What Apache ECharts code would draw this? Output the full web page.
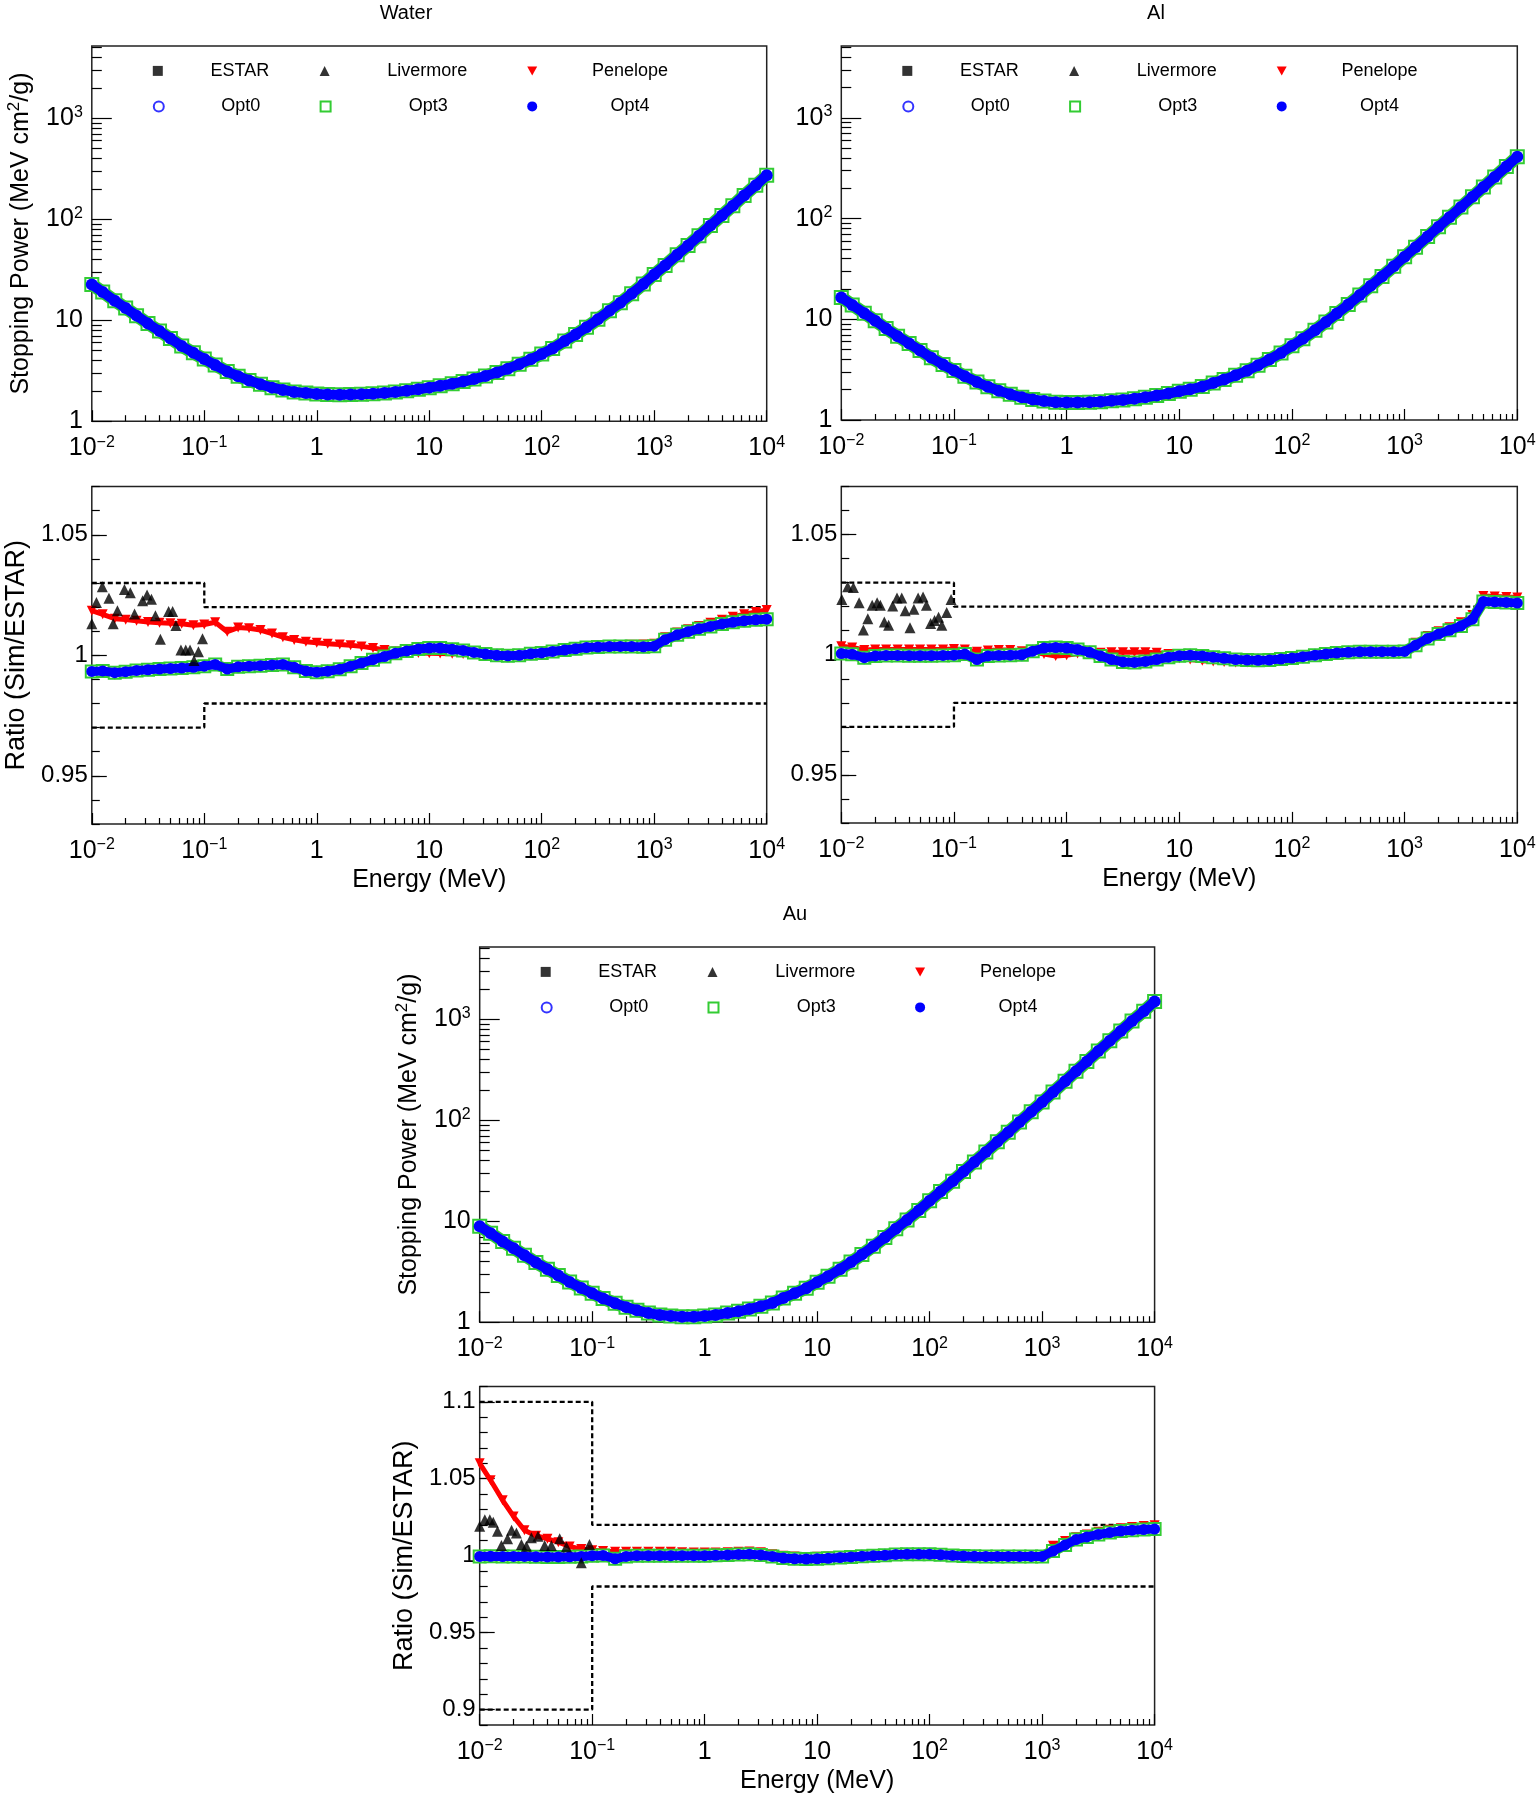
<!DOCTYPE html>
<html>
<head>
<meta charset="utf-8">
<title>Stopping power: Water, Al, Au</title>
<script src="https://cdn.jsdelivr.net/npm/echarts@6.0.0/dist/echarts.min.js"></script>
<style>
html, body { margin: 0; padding: 0; background: #fff; }
#main { width: 1539px; height: 1800px; }
</style>
</head>
<body>
<div id="main"></div>
<script>
// energy grid (MeV), shared by every curve
var energy = [0.01, 0.0125, 0.016, 0.02, 0.025, 0.0316, 0.04, 0.05, 0.063, 0.08,
	0.1, 0.125, 0.16, 0.2, 0.25, 0.316, 0.4, 0.5, 0.63, 0.8,
	1, 1.25, 1.6, 2, 2.5, 3.16, 4, 5, 6.3, 8,
	10, 12.5, 16, 20, 25, 31.6, 40, 50, 63, 80,
	100, 125, 160, 200, 250, 316, 400, 500, 630, 800,
	1000, 1250, 1600, 2000, 2500, 3160, 4000, 5000, 6300, 8000,
	10000];

// stopping power (MeV cm2/g)
var waterSP = [22.6, 19.0, 15.6, 13.2, 11.1, 9.25, 7.8, 6.6, 5.55, 4.76,
	4.12, 3.6, 3.1, 2.79, 2.53, 2.32, 2.15, 2.04, 1.95, 1.90,
	1.86, 1.84, 1.83, 1.84, 1.85, 1.87, 1.90, 1.95, 2.0, 2.07,
	2.15, 2.24, 2.35, 2.47, 2.61, 2.80, 3.03, 3.31, 3.67, 4.10,
	4.62, 5.24, 6.21, 7.23, 8.5, 10.2, 12.4, 14.9, 18.3, 22.8,
	28.4, 34.9, 44.4, 55.0, 68.5, 86.5, 109, 136, 172, 217,
	272];
var alSP = [16.5, 13.9, 11.5, 9.7, 8.1, 6.8, 5.75, 4.9, 4.15, 3.55,
	3.1, 2.72, 2.38, 2.14, 1.95, 1.80, 1.68, 1.60, 1.54, 1.50,
	1.49, 1.49, 1.50, 1.52, 1.55, 1.58, 1.63, 1.68, 1.75, 1.83,
	1.93, 2.02, 2.15, 2.33, 2.52, 2.78, 3.09, 3.49, 3.99, 4.64,
	5.45, 6.41, 7.78, 9.4, 11.4, 14.0, 17.4, 21.5, 26.7, 33.6,
	41.9, 52, 66.5, 83, 103.5, 130.5, 165, 206, 259.5, 329,
	412];
var auSP = [8.9, 7.6, 6.3, 5.4, 4.6, 3.9, 3.35, 2.9, 2.5, 2.18,
	1.93, 1.72, 1.54, 1.41, 1.31, 1.23, 1.18, 1.15, 1.13, 1.13,
	1.15, 1.18, 1.23, 1.28, 1.35, 1.44, 1.55, 1.74, 1.93, 2.17,
	2.49, 2.85, 3.35, 3.94, 4.67, 5.64, 6.88, 8.4, 10.3, 12.8,
	15.9, 19.7, 24.9, 31.0, 38.6, 48.4, 61.1, 76.1, 96, 121.5,
	151.5, 190, 243, 305, 381, 484, 612, 764, 960, 1200,
	1500];

// ratio Sim/ESTAR
var waterPen = [1.0185, 1.0170, 1.0152, 1.0148, 1.0143, 1.0138, 1.0135, 1.0133, 1.0131, 1.0125,
	1.0128, 1.0137, 1.0098, 1.0115, 1.0112, 1.0105, 1.0090, 1.0075, 1.0064, 1.0056,
	1.0052, 1.0048, 1.0045, 1.0042, 1.0037, 1.0030, 1.0022, 1.0016, 1.0012, 1.0010,
	1.0008, 1.0007, 1.0006, 1.0005, 1.0004, 1.0002, 1.0000, 0.9999, 1.0000, 1.0007,
	1.0012, 1.0018, 1.0025, 1.0030, 1.0035, 1.0038, 1.0040, 1.0042, 1.0044, 1.0045,
	1.0048, 1.0075, 1.0095, 1.0108, 1.0122, 1.0135, 1.0148, 1.0160, 1.0170, 1.0180,
	1.0188];
var waterOpt = [0.9933, 0.9935, 0.9928, 0.9932, 0.9937, 0.9940, 0.9943, 0.9945, 0.9947, 0.9950,
	0.9955, 0.9962, 0.9943, 0.9952, 0.9955, 0.9957, 0.9960, 0.9962, 0.9950, 0.9935,
	0.9930, 0.9934, 0.9942, 0.9955, 0.9968, 0.9982, 0.9995, 1.0008, 1.0018, 1.0026,
	1.0030, 1.0030, 1.0025, 1.0020, 1.0012, 1.0005, 1.0000, 0.9998, 1.0000, 1.0006,
	1.0010, 1.0016, 1.0022, 1.0027, 1.0032, 1.0034, 1.0036, 1.0037, 1.0036, 1.0035,
	1.0038, 1.0065, 1.0085, 1.0098, 1.0110, 1.0120, 1.0130, 1.0137, 1.0143, 1.0147,
	1.0150];
var alPen = [1.0035, 1.0030, 1.0020, 1.0022, 1.0022, 1.0022, 1.0022, 1.0022, 1.0022, 1.0022,
	1.0024, 1.0022, 1.0012, 1.0018, 1.0020, 1.0020, 1.0015, 1.0012, 1.0003, 0.9995,
	0.9998, 1.0005, 1.0005, 1.0008, 1.0010, 1.0010, 1.0010, 1.0010, 1.0008, 1.0003,
	0.9985, 0.9980, 0.9975, 0.9972, 0.9970, 0.9968, 0.9968, 0.9970, 0.9972, 0.9980,
	0.9986, 0.9993, 1.0000, 1.0005, 1.0010, 1.0013, 1.0015, 1.0016, 1.0017, 1.0018,
	1.0019, 1.0050, 1.0078, 1.0098, 1.0115, 1.0135, 1.0165, 1.0245, 1.0243, 1.0240,
	1.0238];
var alOpt = [1.0005, 1.0002, 0.9988, 0.9995, 0.9997, 0.9997, 0.9996, 0.9996, 0.9996, 0.9997,
	0.9998, 1.0003, 0.9980, 0.9995, 0.9997, 0.9998, 1.0000, 1.0015, 1.0028, 1.0030,
	1.0028, 1.0022, 1.0010, 0.9995, 0.9980, 0.9970, 0.9968, 0.9972, 0.9980, 0.9990,
	0.9996, 0.9998, 0.9995, 0.9990, 0.9985, 0.9980, 0.9978, 0.9977, 0.9978, 0.9982,
	0.9986, 0.9992, 0.9998, 1.0003, 1.0007, 1.0010, 1.0012, 1.0013, 1.0013, 1.0013,
	1.0014, 1.0040, 1.0068, 1.0086, 1.0102, 1.0120, 1.0148, 1.0222, 1.0220, 1.0218,
	1.0215];
var auPen = [1.0600, 1.0490, 1.0360, 1.0255, 1.0165, 1.0130, 1.0110, 1.0088, 1.0060, 1.0043,
	1.0035, 1.0030, 1.0025, 1.0025, 1.0025, 1.0025, 1.0025, 1.0025, 1.0022, 1.0020,
	1.0020, 1.0020, 1.0022, 1.0025, 1.0028, 1.0022, 1.0010, 1.0000, 0.9995, 0.9992,
	0.9993, 0.9995, 0.9998, 1.0000, 1.0003, 1.0006, 1.0010, 1.0014, 1.0016, 1.0016,
	1.0015, 1.0012, 1.0008, 1.0005, 1.0003, 1.0002, 1.0002, 1.0002, 1.0002, 1.0002,
	1.0003, 1.0065, 1.0095, 1.0120, 1.0138, 1.0155, 1.0168, 1.0178, 1.0186, 1.0193,
	1.0198];
var auOpt = [0.9995, 0.9996, 0.9994, 0.9995, 0.9995, 0.9993, 0.9992, 0.9992, 0.9993, 0.9995,
	1.0000, 1.0002, 0.9980, 0.9995, 1.0000, 1.0000, 1.0000, 1.0000, 1.0000, 1.0000,
	1.0000, 1.0003, 1.0005, 1.0008, 1.0010, 1.0005, 0.9995, 0.9985, 0.9980, 0.9978,
	0.9980, 0.9983, 0.9988, 0.9992, 0.9996, 0.9999, 1.0003, 1.0008, 1.0010, 1.0010,
	1.0010, 1.0006, 1.0002, 0.9998, 0.9996, 0.9995, 0.9995, 0.9995, 0.9995, 0.9995,
	0.9995, 1.0030, 1.0070, 1.0105, 1.0122, 1.0138, 1.0150, 1.0160, 1.0166, 1.0170,
	1.0173];

// Livermore points (only below 0.1 MeV)
var waterLivE = [0.0100, 0.0110, 0.0124, 0.0142, 0.0155, 0.0169, 0.0195, 0.0220, 0.0240, 0.0283, 0.0310, 0.0339,
	0.0368, 0.0407, 0.0482, 0.0523, 0.0560, 0.0620, 0.0684, 0.0747, 0.0810, 0.0887, 0.0964];
var waterLivR = [1.0131, 1.0219, 1.0284, 1.0237, 1.0131, 1.0185, 1.0273, 1.0260, 1.0171, 1.0226, 1.0250, 1.0233,
	1.0164, 1.0067, 1.0182, 1.0182, 1.0124, 1.0022, 1.0022, 1.0022, 0.9978, 1.0015, 1.0069];
var alLivE = [0.0101, 0.0114, 0.0128, 0.0144, 0.0157, 0.0172, 0.0188, 0.0208, 0.0222, 0.0241, 0.0263, 0.0286, 0.0312,
	0.0344, 0.0369, 0.0407, 0.0441, 0.0481, 0.0532, 0.0570, 0.0621, 0.0673, 0.0730, 0.0780, 0.0862, 0.0942];
var alLivR = [1.0230, 1.0283, 1.0280, 1.0216, 1.0103, 1.0150, 1.0206, 1.0216, 1.0206, 1.0136, 1.0123, 1.0203, 1.0236,
	1.0236, 1.0183, 1.0112, 1.0189, 1.0236, 1.0240, 1.0206, 1.0130, 1.0143, 1.0156, 1.0123, 1.0176, 1.0230];
var auLivE = [0.0100, 0.0111, 0.0123, 0.0132, 0.0144, 0.0156, 0.0177, 0.0192, 0.0212, 0.0235, 0.0260, 0.0288, 0.0330,
	0.0378, 0.0434, 0.0514, 0.0590, 0.0800, 0.0946];
var auLivR = [1.0191, 1.0234, 1.0234, 1.0217, 1.0159, 1.0066, 1.0110, 1.0165, 1.0148, 1.0073, 1.0062, 1.0116, 1.0127,
	1.0066, 1.0066, 1.0110, 1.0058, 0.9955, 1.0073];

// tolerance bands (dashed)
var limitE = [0.01, 0.1, 0.1, 10000];
var waterUpper = [1.03, 1.03, 1.02, 1.02];
var waterLower = [0.97, 0.97, 0.98, 0.98];
var alUpper = [1.03, 1.03, 1.02, 1.02];
var alLower = [0.97, 0.97, 0.98, 0.98];
var auUpper = [1.1, 1.1, 1.02, 1.02];
var auLower = [0.9, 0.9, 0.98, 0.98];

// tick labels
var xMajor = [0.01, 0.1, 1, 10, 100, 1000, 10000];
var spMajor = [1, 10, 100, 1000];
var ratioMajor = [0.95, 1, 1.05];
var auRatioMajor = [0.9, 0.95, 1, 1.05, 1.1];

var FONT = '"Liberation Sans", Arial, Helvetica, sans-serif';
var BLUE = '#0000ff', RED = '#ff0000', GREEN = '#33cc33';

function pairs(xs, ys) {
	return xs.map(function(x, i) { return [x, ys[i]]; });
}

// 2..9 subdivisions of every decade
function logMinor(lo, hi) {
	var out = [];
	for (var e = Math.round(Math.log10(lo)); Math.pow(10, e) < hi; e++) {
		for (var k = 2; k <= 9; k++) {
			var v = +(k * Math.pow(10, e)).toPrecision(6);
			if (v <= hi) out.push(v);
		}
	}
	return out;
}

function linMinor(lo, hi) {
	var out = [];
	for (var i = Math.round(lo * 100); i <= Math.round(hi * 100); i++) out.push(i / 100);
	return out;
}

function powLabel(v) {
	var e = Math.round(Math.log10(v));
	if (e === 0) return '{b|1}';
	if (e === 1) return '{b|10}';
	return '{b|10}{s|' + (e < 0 ? '\u2212' + (-e) : e) + '}';
}

function ratioLabel(v) {
	return '{b|' + (Math.abs(v - 1) < 1e-9 ? '1' : String(+v.toFixed(2))) + '}';
}

var tickRich = {
	b: { fontSize: 25, fontFamily: FONT, color: '#000', lineHeight: 28 },
	s: { fontSize: 16, fontFamily: FONT, color: '#000', lineHeight: 14, verticalAlign: 'top' }
};
var ratioRich = {
	b: { fontSize: 24, fontFamily: FONT, color: '#000', lineHeight: 28 }
};
var tickLine = { color: '#000', width: 1.2 };

// panel boxes: [left, top, width, height]
var boxes = [
	[91.8, 45.9, 674.9, 375.3], [91.8, 486.6, 674.9, 337.4],
	[841.3, 45.9, 676, 374.1], [841.3, 486.6, 676, 336.3],
	[479.7, 946.9, 674.9, 375.3], [479.7, 1386.4, 674.9, 338.6]
];

var materials = [
	{ title: 'Water', tx: 406, ty: 13, sp: waterSP, pen: waterPen, opt: waterOpt,
		livE: waterLivE, livR: waterLivR, up: waterUpper, lo: waterLower,
		rmin: 0.93, rmax: 1.07, rmajor: ratioMajor, yname: true },
	{ title: 'Al', tx: 1156, ty: 13, sp: alSP, pen: alPen, opt: alOpt,
		livE: alLivE, livR: alLivR, up: alUpper, lo: alLower,
		rmin: 0.93, rmax: 1.07, rmajor: ratioMajor, yname: false },
	{ title: 'Au', tx: 795, ty: 914, sp: auSP, pen: auPen, opt: auOpt,
		livE: auLivE, livR: auLivR, up: auUpper, lo: auLower,
		rmin: 0.89, rmax: 1.11, rmajor: auRatioMajor, yname: true }
];

var grid = [], xAxis = [], yAxis = [], series = [], legend = [], graphic = [];

function addX(g, withName) {
	xAxis.push({
		type: 'log', logBase: 10, gridIndex: g, min: 0.01, max: 10000, position: 'bottom',
		axisLine: { show: false }, splitLine: { show: false },
		axisTick: { inside: true, length: 11, customValues: xMajor, lineStyle: tickLine },
		axisLabel: { customValues: xMajor, margin: 13, formatter: powLabel, rich: tickRich },
		name: withName ? 'Energy (MeV)' : '', nameLocation: 'middle', nameGap: 44,
		nameTextStyle: { fontSize: 25, fontFamily: FONT, color: '#000' }
	});
	// minor ticks on a second, label-less axis
	xAxis.push({
		type: 'log', logBase: 10, gridIndex: g, min: 0.01, max: 10000, position: 'bottom',
		axisLine: { show: false }, splitLine: { show: false }, axisLabel: { show: false },
		axisTick: { inside: true, length: 6, customValues: logMinor(0.01, 10000), lineStyle: tickLine }
	});
}

function addLegends(box) {
	var cols = [{ dx: 66, tc: 148 }, { dx: 232.8, tc: 335.5 }, { dx: 440.4, tc: 538.3 }];
	var rows = [23.5, 59];
	var names = [['ESTAR', 'Livermore', 'Penelope'], ['Opt0', 'Opt3', 'Opt4']];
	var icons = { ESTAR: 'rect', Livermore: 'triangle', Penelope: 'path://M0,0L10,0L5,9Z',
		Opt0: 'emptyCircle', Opt3: 'emptyRect', Opt4: 'circle' };
	rows.forEach(function(ry, r) {
		cols.forEach(function(c, k) {
			var mx = box[0] + c.dx;
			var w = 2 * (box[0] + c.tc - (mx + 10));
			legend.push({
				left: mx - 5, top: box[1] + ry - 7.5, padding: 0,
				itemWidth: 10, itemHeight: 10, selectedMode: false,
				data: [{ name: names[r][k], icon: icons[names[r][k]] }],
				formatter: function(name) { return '{c|' + name + '}'; },
				textStyle: { fontSize: 18, fontFamily: FONT, color: '#000',
					rich: { c: { width: w, align: 'center', fontSize: 18, fontFamily: FONT, color: '#000' } } }
			});
		});
	});
}

materials.forEach(function(m, i) {
	var gTop = 2 * i, gRat = 2 * i + 1;
	[gTop, gRat].forEach(function(g) {
		var b = boxes[g];
		grid.push({ left: b[0], top: b[1], width: b[2], height: b[3], show: true,
			borderColor: '#222', borderWidth: 1.5, backgroundColor: 'transparent' });
	});

	// stopping power panel
	addX(gTop, false);
	yAxis.push({
		type: 'log', logBase: 10, gridIndex: gTop, min: 1, max: 5200, position: 'left',
		axisLine: { show: false }, splitLine: { show: false },
		axisTick: { inside: true, length: 20, customValues: spMajor, lineStyle: tickLine },
		axisLabel: { customValues: spMajor, margin: 9, formatter: powLabel, rich: tickRich },
		name: m.yname ? '{n|Stopping Power (MeV cm}{s|2}{n|/g)}' : '',
		nameLocation: 'middle', nameGap: 56,
		nameTextStyle: { rich: {
			n: { fontSize: 25, fontFamily: FONT, color: '#000', lineHeight: 30 },
			s: { fontSize: 17, fontFamily: FONT, color: '#000', lineHeight: 17, verticalAlign: 'top' } } }
	});
	yAxis.push({
		type: 'log', logBase: 10, gridIndex: gTop, min: 1, max: 5200, position: 'left',
		axisLine: { show: false }, splitLine: { show: false }, axisLabel: { show: false },
		axisTick: { inside: true, length: 10, customValues: logMinor(1, 5200), lineStyle: tickLine }
	});

	// ratio panel
	addX(gRat, true);
	yAxis.push({
		type: 'value', gridIndex: gRat, min: m.rmin, max: m.rmax, position: 'left',
		axisLine: { show: false }, splitLine: { show: false },
		axisTick: { inside: true, length: 15, customValues: m.rmajor, lineStyle: tickLine },
		axisLabel: { customValues: m.rmajor, margin: 4, formatter: ratioLabel, rich: ratioRich },
		name: m.yname ? 'Ratio (Sim/ESTAR)' : '', nameLocation: 'middle', nameGap: 62,
		nameTextStyle: { fontSize: 27, fontFamily: FONT, color: '#000' }
	});
	yAxis.push({
		type: 'value', gridIndex: gRat, min: m.rmin, max: m.rmax, position: 'left',
		axisLine: { show: false }, splitLine: { show: false }, axisLabel: { show: false },
		axisTick: { inside: true, length: 8, customValues: linMinor(m.rmin, m.rmax), lineStyle: tickLine }
	});

	var xt = 2 * gTop, yt = 2 * gTop, xr = 2 * gRat, yr = 2 * gRat;
	var spData = pairs(energy, m.sp);

	// top panel: the curves lie on top of each other
	series.push(
		{ name: 'ESTAR', type: 'scatter', xAxisIndex: xt, yAxisIndex: yt, data: spData,
			symbol: 'rect', symbolSize: 9, itemStyle: { color: '#000' }, z: 2, clip: false },
		{ name: 'Penelope', type: 'line', xAxisIndex: xt, yAxisIndex: yt, data: spData,
			symbol: 'triangle', symbolRotate: 180, symbolSize: 10, lineStyle: { color: RED, width: 4 },
			itemStyle: { color: RED }, z: 3, clip: false },
		{ name: 'Opt0', type: 'scatter', xAxisIndex: xt, yAxisIndex: yt, data: spData,
			symbol: 'emptyCircle', symbolSize: 11, itemStyle: { color: BLUE }, z: 4, clip: false },
		{ name: 'Opt3', type: 'line', xAxisIndex: xt, yAxisIndex: yt, data: spData,
			symbol: 'emptyRect', symbolSize: 13, lineStyle: { color: GREEN, width: 13 },
			itemStyle: { color: GREEN, borderWidth: 1.2 }, z: 5, clip: false },
		{ name: 'Opt4', type: 'line', xAxisIndex: xt, yAxisIndex: yt, data: spData,
			symbol: 'circle', symbolSize: 12, lineStyle: { color: BLUE, width: 10 },
			itemStyle: { color: BLUE }, z: 6, clip: false }
	);

	// ratio panel
	series.push(
		{ name: 'limit', type: 'line', xAxisIndex: xr, yAxisIndex: yr, data: pairs(limitE, m.up),
			symbol: 'none', lineStyle: { color: '#000', width: 2.3, type: [5, 3] }, z: 1, silent: true },
		{ name: 'limit', type: 'line', xAxisIndex: xr, yAxisIndex: yr, data: pairs(limitE, m.lo),
			symbol: 'none', lineStyle: { color: '#000', width: 2.3, type: [5, 3] }, z: 1, silent: true },
		{ name: 'Penelope', type: 'line', xAxisIndex: xr, yAxisIndex: yr, data: pairs(energy, m.pen),
			symbol: 'triangle', symbolRotate: 180, symbolSize: 10, lineStyle: { color: RED, width: 5 },
			itemStyle: { color: RED }, z: 3, clip: false },
		{ name: 'Opt0', type: 'scatter', xAxisIndex: xr, yAxisIndex: yr, data: pairs(energy, m.opt),
			symbol: 'emptyCircle', symbolSize: 11, itemStyle: { color: BLUE }, z: 4, clip: false },
		{ name: 'Opt3', type: 'line', xAxisIndex: xr, yAxisIndex: yr, data: pairs(energy, m.opt),
			symbol: 'emptyRect', symbolSize: 12, lineStyle: { color: GREEN, width: 11 },
			itemStyle: { color: GREEN, borderWidth: 1.2 }, z: 5, clip: false },
		{ name: 'Opt4', type: 'line', xAxisIndex: xr, yAxisIndex: yr, data: pairs(energy, m.opt),
			symbol: 'circle', symbolSize: 11, lineStyle: { color: BLUE, width: 9 },
			itemStyle: { color: BLUE }, z: 6, clip: false },
		{ name: 'Livermore', type: 'scatter', xAxisIndex: xr, yAxisIndex: yr, data: pairs(m.livE, m.livR),
			symbol: 'triangle', symbolSize: 11, itemStyle: { color: '#000' }, z: 7, clip: false }
	);

	addLegends(boxes[gTop]);
	graphic.push({ type: 'text', x: m.tx, y: m.ty,
		style: { text: m.title, fontSize: 20, fontFamily: FONT, fill: '#000',
			textAlign: 'center', textVerticalAlign: 'middle' } });
});

var chart = echarts.init(document.getElementById('main'), null, { renderer: 'canvas' });
chart.setOption({
	backgroundColor: '#fff',
	animation: false,
	grid: grid,
	xAxis: xAxis,
	yAxis: yAxis,
	legend: legend,
	graphic: graphic,
	series: series
});
</script>
</body>
</html>
